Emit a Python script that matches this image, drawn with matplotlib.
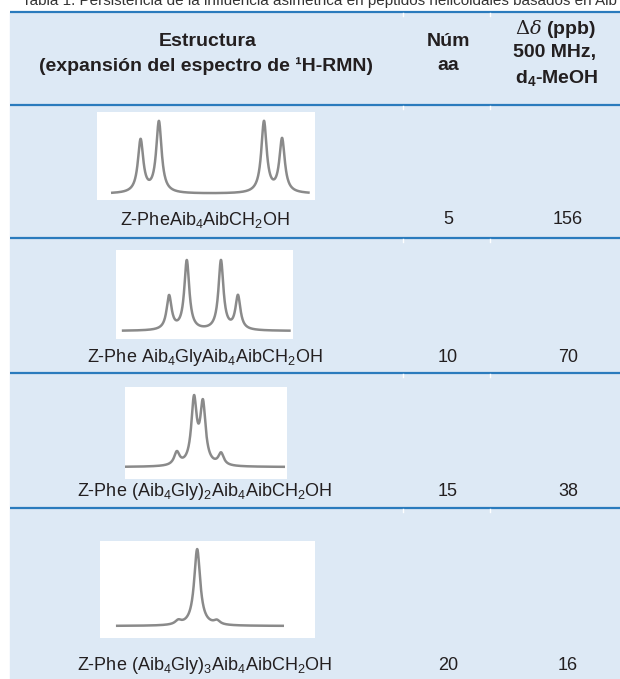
import numpy as np
import matplotlib
matplotlib.use("Agg")
import matplotlib.pyplot as plt
from matplotlib import font_manager

names = {f.name for f in font_manager.fontManager.ttflist}
fam = 'Liberation Sans Narrow' if 'Liberation Sans Narrow' in names else 'Liberation Sans'
plt.rcParams['font.family'] = [fam, 'DejaVu Sans']
plt.rcParams['mathtext.fontset'] = 'custom'
plt.rcParams['mathtext.rm'] = fam
plt.rcParams['mathtext.it'] = fam + ':italic'
plt.rcParams['mathtext.bf'] = fam + ':bold'

# table contents
caption = "Tabla 1. Persistencia de la influencia asimétrica en péptidos helicoidales basados en Aib"
structures = [r"Z-PheAib$_4$AibCH$_2$OH",
              r"Z-Phe Aib$_4$GlyAib$_4$AibCH$_2$OH",
              r"Z-Phe (Aib$_4$Gly)$_2$Aib$_4$AibCH$_2$OH",
              r"Z-Phe (Aib$_4$Gly)$_3$Aib$_4$AibCH$_2$OH"]
num_aa = [5, 10, 15, 20]
delta_ppb = [156, 70, 38, 16]

# spectra: peak positions (fraction of box), heights, half widths, baseline level, baseline start/end
peak_pos = [[0.20, 0.284, 0.766, 0.849],
            [0.30, 0.40, 0.593, 0.689],
            [0.32, 0.426, 0.481, 0.593],
            [0.364, 0.452, 0.544]]
peak_h = [[0.60, 0.81, 0.81, 0.61],
          [0.38, 0.78, 0.78, 0.38],
          [0.14, 0.70, 0.65, 0.13],
          [0.04, 0.79, 0.04]]
peak_w = [0.015, 0.017, 0.02, 0.017]
base_lvl = [0.07, 0.09, 0.13, 0.124]
base_rng = [(0.07, 0.97), (0.04, 0.98), (0.0, 0.98), (0.08, 0.85)]

W, H = 620, 679
bg = '#dde9f5'
rule = '#2a7bbd'
txt = '#231f20'

fig = plt.figure(figsize=(W / 100, H / 100), dpi=100)
fig.patch.set_facecolor('white')
ax = fig.add_axes([0, 0, 1, 1])
ax.set_xlim(0, W)
ax.set_ylim(H, 0)
ax.axis('off')

ax.add_patch(plt.Rectangle((10, 12), W, H, color=bg, zorder=0))
# caption is cut by the top edge in the original
ax.text(22, 5, caption, fontsize=11, color='#333333', va='baseline', ha='left')

rules = [12, 105, 238, 373, 508]
for y in rules:
    ax.plot([10, W], [y, y], color=rule, lw=1.6, solid_capstyle='butt')
    for xs in [403, 490]:
        ax.plot([xs, xs], [y + 1, y + 4], color='white', lw=1.0)

# header
hs = 14
ax.text(208, 42, "Estructura", ha='center', va='center', fontsize=hs, fontweight='bold', color=txt)
ax.text(206, 66, "(expansión del espectro de ¹H-RMN)", ha='center', va='center', fontsize=hs,
        fontweight='bold', color=txt)
ax.text(448, 42, "Núm", ha='center', va='center', fontsize=hs, fontweight='bold', color=txt)
ax.text(448, 66, "aa", ha='center', va='center', fontsize=hs, fontweight='bold', color=txt)
ax.text(555, 29, r"$\mathit{\Delta\delta}$ (ppb)", ha='center', va='center', fontsize=hs,
        fontweight='bold', color=txt, math_fontfamily='dejavuserif')
ax.text(555, 53, "500 MHz,", ha='center', va='center', fontsize=hs, fontweight='bold', color=txt)
ax.text(557, 78, r"d$_\mathbf{4}$-MeOH", ha='center', va='center', fontsize=hs, fontweight='bold', color=txt)

# rows
label_y = [220, 357, 492, 666]
boxes = [(97, 112, 315, 200), (116, 250, 293, 339), (125, 387, 287, 479), (100, 541, 315, 638)]
rs = 13
for i in range(4):
    ax.text(205, label_y[i], structures[i], ha='center', va='center', fontsize=rs, color=txt)
    ax.text(448, label_y[i], str(num_aa[i]), ha='center', va='center', fontsize=rs, color=txt)
    ax.text(568, label_y[i], str(delta_ppb[i]), ha='center', va='center', fontsize=rs, color=txt)

    x0, y0, x1, y1 = boxes[i]
    sa = fig.add_axes([x0 / W, 1 - y1 / H, (x1 - x0) / W, (y1 - y0) / H])
    sa.set_facecolor('white')
    for s in sa.spines.values():
        s.set_visible(False)
    sa.set_xticks([])
    sa.set_yticks([])
    sa.set_xlim(0, 1)
    sa.set_ylim(0, 1)
    a, b = base_rng[i]
    x = np.linspace(a, b, 800)
    y = np.full_like(x, base_lvl[i])
    w = peak_w[i]
    for p, h in zip(peak_pos[i], peak_h[i]):
        y = y + h * w ** 2 / ((x - p) ** 2 + w ** 2)
    sa.plot(x, y, color='#8a8a8a', lw=1.8)

fig.savefig('out.png', dpi=100, facecolor='white')
